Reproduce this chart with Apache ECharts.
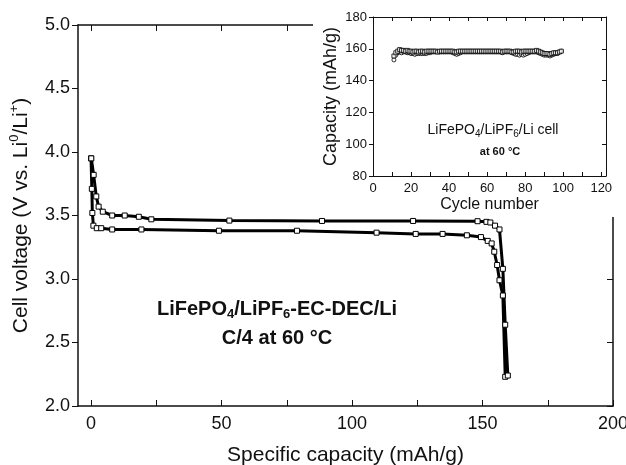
<!DOCTYPE html>
<html style="height: 100%">
    <head>
        <title>LiFePO4 cell voltage profile</title>
        <script type="text/javascript" src="https://fastly.jsdelivr.net/npm/echarts@6.0.0/dist/echarts.min.js"></script>
    </head>
    <body style="height: 100%; margin: 0; background: #fff">
        <div id="target" style="width: 626px; height: 465px"></div>
<script>
// main plot: specific capacity (mAh/g) vs cell voltage (V)
let upperCurve = [
    [0.1, 3.95], [1.0, 3.82], [2.0, 3.65], [2.9, 3.57], [4.5, 3.53], [8.1, 3.50],
    [12.9, 3.50], [18.3, 3.49], [23.1, 3.47], [53, 3.46], [88.5, 3.457], [123.4, 3.457],
    [148.1, 3.455], [151.5, 3.45], [153, 3.445], [154.8, 3.42], [156.5, 3.39],
    [157.8, 3.08], [158.7, 2.64], [159.7, 2.24],
];
let lowerCurve = [
    [0.0, 3.95], [0.3, 3.71], [0.5, 3.52], [0.9, 3.42], [2.2, 3.40], [3.9, 3.40],
    [8.1, 3.39], [19.3, 3.39], [49, 3.38], [78.9, 3.38], [109.4, 3.365], [124.4, 3.355],
    [134.7, 3.355], [144, 3.344], [149.4, 3.33], [152, 3.30], [153.5, 3.28], [154.5, 3.215],
    [155.6, 3.11], [156.5, 2.99], [157.8, 2.87], [158.7, 2.23],
];

// inset: capacity vs cycle number
let cycles = [
    11, 12, 13, 14, 15, 16, 17, 18, 19, 20, 21, 22, 23, 24, 25, 26, 27, 28, 29, 30,
    31, 32, 33, 34, 35, 36, 37, 38, 39, 40, 41, 42, 43, 44, 45, 46, 47, 48, 49, 50,
    51, 52, 53, 54, 55, 56, 57, 58, 59, 60, 61, 62, 63, 64, 65, 66, 67, 68, 69, 70,
    71, 72, 73, 74, 75, 76, 77, 78, 79, 80, 81, 82, 83, 84, 85, 86, 87, 88, 89, 90,
    91, 92, 93, 94, 95, 96, 97, 98, 99,
];
let chargeCapacity = [
    155.5, 157.5, 158.5, 159.5, 159, 159, 158.5, 159, 158.5, 158.5,
    158, 158.5, 158.5, 158, 158.5, 158.5, 158, 158.5, 158.5, 158.5,
    158.5, 158.5, 158.5, 158, 158.5, 158.5, 158.5, 158.5, 158.5, 158.5,
    158.5, 158.5, 158, 158, 158.5, 158.5, 158.5, 158.5, 158.5, 158.5,
    158.5, 158.5, 158.5, 158.5, 158.5, 158.5, 158.5, 158.5, 158.5, 158.5,
    158.5, 158.5, 158.5, 158.5, 158.5, 158.5, 158.5, 158, 158.5, 158.5,
    158.5, 158.5, 158, 158, 158.5, 158.5, 158.5, 158, 158.5, 158.5,
    158.5, 158.5, 158.5, 158.5, 158.5, 159, 158.5, 158, 157.5, 157,
    157, 157, 156.5, 157, 157.5, 157.5, 157.5, 158, 158.5,
];
let dischargeCapacity = [
    153, 156, 157.5, 158, 157.5, 158, 158, 157.5, 157.5, 157,
    157, 156.5, 157, 157, 157, 157, 157, 157, 157.5, 157.5,
    158, 158, 158, 158, 158, 158, 158, 158, 158, 158,
    158, 157.5, 157, 156.5, 157, 157.5, 158, 158, 158, 158,
    158, 158, 158, 158, 158, 158, 158, 158, 158, 158,
    158, 158, 158, 158, 158, 158, 158, 157.5, 158, 158,
    158, 158, 157.5, 157, 156.5, 156.5, 156, 156.5, 156, 156.5,
    157, 157.5, 158, 158, 158, 158, 157.5, 157, 156.5, 156,
    156, 156, 155.5, 156, 156.5, 157, 157, 158, 158.5,
];

let mainXTicks = [0, 25, 50, 75, 100, 125, 150, 175, 200];
let mainXLabels = [0, 50, 100, 150, 200];
let insetXTicks = [0, 10, 20, 30, 40, 50, 60, 70, 80, 90, 100, 110, 120];
let insetXLabels = [0, 20, 40, 60, 80, 100, 120];

let font = "'Liberation Sans', Arial, sans-serif";
let ink = "#111";

let chart = echarts.init(document.getElementById('target'));

let pair = (xs, ys) => xs.map((x, i) => [x, ys[i]]);

let option = {
    backgroundColor: "#fff",
    animation: false,
    grid: [
        { left: 78, top: 25, right: 13, bottom: 59, outerBoundsMode: "none", containLabel: false },
        { left: 373, top: 17, right: 20, bottom: 289, outerBoundsMode: "none", containLabel: false },
    ],
    xAxis: [
        {
            gridIndex: 0, type: "value", min: -5, max: 200,
            axisLine: { show: true, onZero: false, lineStyle: { color: ink, width: 1.5 } },
            axisTick: { show: true, inside: true, length: 6, customValues: mainXTicks, lineStyle: { color: ink, width: 1 } },
            axisLabel: { customValues: mainXLabels, margin: 9, color: ink, fontSize: 18, fontFamily: font },
            splitLine: { show: false },
            name: "Specific capacity (mAh/g)",
            nameLocation: "middle", nameGap: 39,
            nameTextStyle: { color: ink, fontSize: 21, fontFamily: font },
        },
        {
            gridIndex: 0, type: "value", min: -5, max: 200, position: "top",
            axisLine: { show: true, onZero: false, lineStyle: { color: ink, width: 1.5 } },
            axisTick: { show: true, inside: true, length: 6, customValues: mainXTicks, lineStyle: { color: ink, width: 1 } },
            axisLabel: { show: false },
            splitLine: { show: false },
        },
        {
            gridIndex: 1, type: "value", min: 0, max: 122.5, z: 60,
            axisLine: { show: true, onZero: false, lineStyle: { color: ink, width: 1 } },
            axisTick: { show: true, inside: true, length: 4, customValues: insetXTicks, lineStyle: { color: ink, width: 1 } },
            axisLabel: { customValues: insetXLabels, margin: 6, color: ink, fontSize: 13, fontFamily: font },
            splitLine: { show: false },
            name: "Cycle number",
            nameLocation: "middle", nameGap: 21,
            nameTextStyle: { color: ink, fontSize: 16, fontFamily: font },
        },
        {
            gridIndex: 1, type: "value", min: 0, max: 122.5, position: "top", z: 60,
            axisLine: { show: true, onZero: false, lineStyle: { color: ink, width: 1 } },
            axisTick: { show: true, inside: true, length: 4, customValues: insetXTicks, lineStyle: { color: ink, width: 1 } },
            axisLabel: { show: false },
            splitLine: { show: false },
        },
    ],
    yAxis: [
        {
            gridIndex: 0, type: "value", min: 2, max: 5, interval: 0.5,
            axisLine: { show: true, onZero: false, lineStyle: { color: ink, width: 1.5 } },
            axisTick: { show: true, length: 6, lineStyle: { color: ink, width: 1 } },
            axisLabel: { margin: 8, color: ink, fontSize: 18, fontFamily: font, formatter: v => v.toFixed(1) },
            splitLine: { show: false },
            name: "Cell voltage (V vs. Li{sup|0}/Li{sup|+})",
            nameLocation: "middle", nameGap: 37,
            nameTextStyle: {
                color: ink, fontSize: 21, fontFamily: font, lineHeight: 26,
                rich: { sup: { fontSize: 13, lineHeight: 13, verticalAlign: "top", color: ink, fontFamily: font } },
            },
        },
        {
            gridIndex: 0, type: "value", min: 2, max: 5, interval: 0.5, position: "right",
            axisLine: { show: true, onZero: false, lineStyle: { color: ink, width: 1.5 } },
            axisTick: { show: true, inside: true, length: 6, lineStyle: { color: ink, width: 1 } },
            axisLabel: { show: false },
            splitLine: { show: false },
        },
        {
            gridIndex: 1, type: "value", min: 80, max: 180, interval: 20, z: 60,
            axisLine: { show: true, onZero: false, lineStyle: { color: ink, width: 1 } },
            axisTick: { show: true, length: 4, lineStyle: { color: ink, width: 1 } },
            axisLabel: { margin: 6, color: ink, fontSize: 13, fontFamily: font },
            splitLine: { show: false },
            name: "Capacity (mAh/g)",
            nameLocation: "middle", nameGap: 33,
            nameTextStyle: { color: ink, fontSize: 18, fontFamily: font },
        },
        {
            gridIndex: 1, type: "value", min: 80, max: 180, interval: 20, position: "right", z: 60,
            axisLine: { show: true, onZero: false, lineStyle: { color: ink, width: 1 } },
            axisTick: { show: true, inside: true, length: 4, lineStyle: { color: ink, width: 1 } },
            axisLabel: { show: false },
            splitLine: { show: false },
        },
    ],
    graphic: [
        // white panel behind the inset, hiding the main frame corner
        { type: "rect", shape: { x: 313, y: 0, width: 313, height: 217 }, style: { fill: "#fff" }, z: 50, silent: true },
        {
            type: "text", x: 277, y: 309, z: 10,
            style: {
                text: "LiFePO{sub|4}/LiPF{sub|6}-EC-DEC/Li",
                fill: ink, fontSize: 20, fontWeight: "bold", fontFamily: font, lineHeight: 24,
                align: "center", verticalAlign: "middle", textAlign: "center", textVerticalAlign: "middle",
                rich: { sub: { fontSize: 13, lineHeight: 12, verticalAlign: "bottom", fill: ink, fontWeight: "bold", fontFamily: font } },
            },
        },
        {
            type: "text", x: 277, y: 338, z: 10,
            style: {
                text: "C/4 at 60 °C",
                fill: ink, fontSize: 20, fontWeight: "bold", fontFamily: font,
                align: "center", verticalAlign: "middle", textAlign: "center", textVerticalAlign: "middle",
            },
        },
        {
            type: "text", x: 493, y: 130, z: 70,
            style: {
                text: "LiFePO{sub|4}/LiPF{sub|6}/Li cell",
                fill: ink, fontSize: 14, fontFamily: font, lineHeight: 18,
                align: "center", verticalAlign: "middle", textAlign: "center", textVerticalAlign: "middle",
                rich: { sub: { fontSize: 10, lineHeight: 10, verticalAlign: "bottom", fill: ink, fontFamily: font } },
            },
        },
        {
            type: "text", x: 500, y: 152, z: 70,
            style: {
                text: "at 60 °C",
                fill: ink, fontSize: 11, fontWeight: "bold", fontFamily: font,
                align: "center", verticalAlign: "middle", textAlign: "center", textVerticalAlign: "middle",
            },
        },
    ],
    series: [
        {
            type: "line", xAxisIndex: 0, yAxisIndex: 0, data: lowerCurve,
            lineStyle: { color: "#000", width: 3 },
            symbol: "rect", symbolSize: 5, showAllSymbol: true,
            itemStyle: { color: "#fff", borderColor: "#000", borderWidth: 1 },
        },
        {
            type: "line", xAxisIndex: 0, yAxisIndex: 0, data: upperCurve,
            lineStyle: { color: "#000", width: 3 },
            symbol: "rect", symbolSize: 5, showAllSymbol: true,
            itemStyle: { color: "#fff", borderColor: "#000", borderWidth: 1 },
        },
        {
            type: "scatter", xAxisIndex: 2, yAxisIndex: 2, z: 60, data: pair(cycles, dischargeCapacity),
            symbol: "circle", symbolSize: 4,
            itemStyle: { color: "#fff", borderColor: "#000", borderWidth: 1 },
        },
        {
            type: "scatter", xAxisIndex: 2, yAxisIndex: 2, z: 61, data: pair(cycles, chargeCapacity),
            symbol: "rect", symbolSize: 4,
            itemStyle: { color: "#fff", borderColor: "#000", borderWidth: 1 },
        },
    ],
};

chart.setOption(option);
</script>
    </body>
</html>
